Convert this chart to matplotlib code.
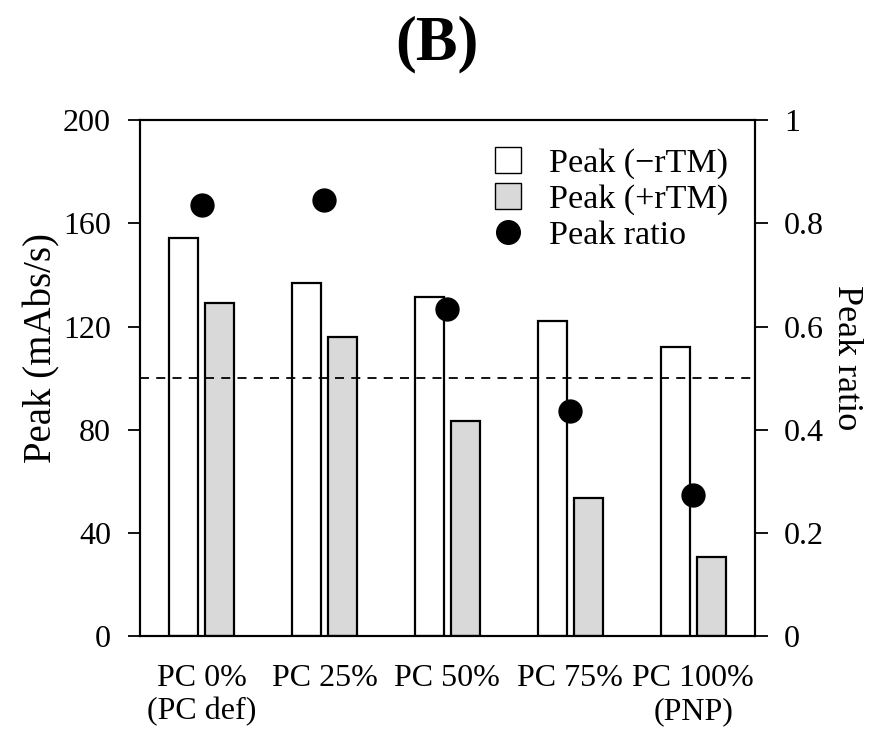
import numpy as np
import matplotlib.pyplot as plt
from matplotlib.lines import Line2D

plt.rcParams['font.family'] = ['Liberation Serif', 'DejaVu Serif']
plt.rcParams['font.size'] = 23

categories = ['PC 0%\n(PC def)', 'PC 25%', 'PC 50%', 'PC 75%', 'PC 100%\n(PNP)']
peak_minus = [154.5, 137, 131.5, 122, 112]
peak_plus = [129, 116, 83.5, 53.5, 30.5]
peak_ratio = [0.835, 0.845, 0.634, 0.437, 0.274]

x = np.arange(len(categories))
w = 0.235
off = 0.146

fig = plt.figure(figsize=(8.72, 7.31), dpi=100)
ax = fig.add_axes([0.1606, 0.130, 0.705, 0.7055])
ax2 = ax.twinx()

ax.bar(x - off, peak_minus, w, color='white', edgecolor='black', linewidth=1.6, zorder=2)
ax.bar(x + off, peak_plus, w, color='#d9d9d9', edgecolor='black', linewidth=1.6, zorder=2)
ax2.axhline(0.5, color='black', linestyle=(0, (5, 4)), linewidth=1.3, zorder=1)
ax2.plot(x, peak_ratio, 'o', color='black', markersize=16.5, zorder=3)

ax.set_xlim(-0.5, 4.5)
ax.set_ylim(0, 200)
ax.set_yticks([0, 40, 80, 120, 160, 200])
ax2.set_ylim(0, 1)
ax2.set_yticks([0, 0.2, 0.4, 0.6, 0.8, 1])
ax2.set_yticklabels(['0', '0.2', '0.4', '0.6', '0.8', '1'])
ax.set_xticks(x)
ax.set_xticklabels(categories)
ax.tick_params(axis='x', length=0, pad=20)
ax.tick_params(axis='y', direction='out', length=9, width=1.3, pad=12)
ax2.tick_params(axis='y', direction='out', length=9, width=1.3, pad=12)
for a in (ax, ax2):
    for s in a.spines.values():
        s.set_linewidth(1.5)

ax.set_ylabel('Peak (mAbs/s)', fontsize=28, labelpad=2)
ax.yaxis.label.set_y(0.558)
ax2.set_ylabel('Peak ratio', fontsize=26, rotation=270, labelpad=28)
ax2.yaxis.label.set_y(0.539)
ax.set_title('(B)', fontsize=45, fontweight='bold', pad=44, x=0.483)

handles = [
    Line2D([], [], marker='s', linestyle='none', markersize=19, markerfacecolor='white', markeredgecolor='black', markeredgewidth=1.0),
    Line2D([], [], marker='s', linestyle='none', markersize=19, markerfacecolor='#d9d9d9', markeredgecolor='black', markeredgewidth=1.0),
    Line2D([], [], marker='o', linestyle='none', markersize=17, color='black'),
]
ax2.legend(handles, ['Peak (\u2212rTM)', 'Peak (+rTM)', 'Peak ratio'], loc='upper right',
           bbox_to_anchor=(0.995, 0.993), frameon=False, handletextpad=0.2,
           labelspacing=0.15, borderaxespad=0.3, fontsize=24.5)

fig.savefig('out.png', dpi=100)
